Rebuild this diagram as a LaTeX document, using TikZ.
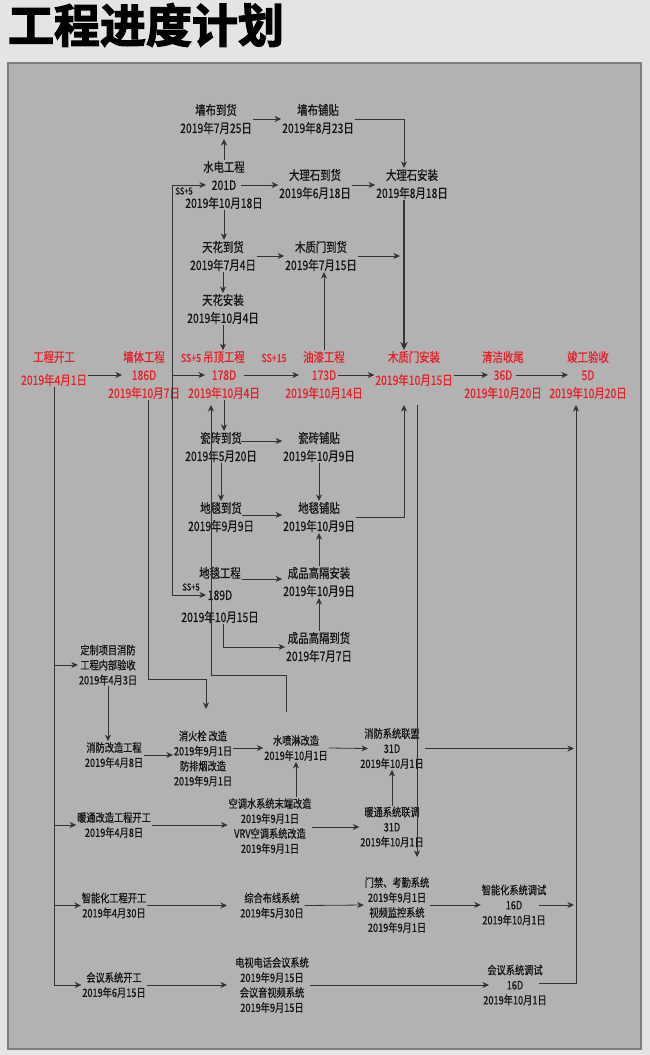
\documentclass[tikz,border=0pt]{standalone}
\usepackage{fontspec}
\setmainfont{Noto Sans CJK SC}
\newfontfamily\bodyfont{Noto Sans CJK SC}[FakeStretch=0.8, FakeBold=0.7]
\newfontfamily\titlefont{Noto Sans CJK SC Bold}[FakeBold=2.8]
\usetikzlibrary{arrows.meta}
\definecolor{pagebg}{HTML}{E4E4E4}
\definecolor{panelfill}{HTML}{B2B2B2}
\definecolor{panelborder}{HTML}{7E7E7E}
\definecolor{ink}{HTML}{141414}
\definecolor{redtxt}{HTML}{E6202A}
\definecolor{wirecol}{HTML}{333333}
\begin{document}
\begin{tikzpicture}[x=1pt,y=-1pt,
  every node/.style={inner sep=0pt, outer sep=0pt},
  task/.style={align=center, text=ink, inner sep=1pt, font=\bodyfont\fontsize{13}{18}\selectfont},
  lowtask/.style={align=center, text=ink, inner sep=1pt, font=\bodyfont\fontsize{11.5}{15}\selectfont},
  maintask/.style={task, text=redtxt},
  laglbl/.style={text=ink, font=\bodyfont\fontsize{9.5}{10}\selectfont},
  redlag/.style={text=redtxt, font=\bodyfont\fontsize{11}{11}\selectfont},
  wire/.style={draw=wirecol, line width=0.8pt},
  arr/.style={wire, -{Stealth[length=6.5pt,width=6pt,inset=2pt]}},
  heavyarr/.style={draw=wirecol, line width=1.5pt, -{Stealth[length=8pt,width=7.5pt,inset=2.5pt]}}
]
\useasboundingbox (0,0) rectangle (650,1055);
\fill[pagebg] (0,0) rectangle (650,1055);
\node[anchor=west, text=black, font=\titlefont\fontsize{46}{46}\selectfont] (title) at (8,25) {工程进度计划};
\filldraw[fill=panelfill, draw=panelborder, line width=2pt] (8,63) rectangle (641,1049);

% ---------- upper tasks ----------
\node[task] (qbdh) at (216,119) {墙布到货\\2019年7月25日};
\node[task] (qbpt) at (318,119) {墙布铺贴\\2019年8月23日};
\node[task] (sd) at (224,185) {水电工程\\201D\\2019年10月18日};
\node[task] (dlsdh) at (315,184) {大理石到货\\2019年6月18日};
\node[task] (dlsaz) at (412,184) {大理石安装\\2019年8月18日};
\node[task] (thdh) at (223,256) {天花到货\\2019年7月4日};
\node[task] (mzmdh) at (321,256) {木质门到货\\2019年7月15日};
\node[task] (thaz) at (223,309) {天花安装\\2019年10月4日};

% ---------- main (red) row ----------
\node[maintask] (kg) at (54,368.5) {工程开工\\[5pt]2019年4月1日};
\node[maintask] (qt) at (144,375) {墙体工程\\186D\\2019年10月7日};
\node[maintask] (dd) at (224,375) {吊顶工程\\178D\\2019年10月4日};
\node[maintask] (yq) at (324,375) {油漆工程\\173D\\2019年10月14日};
\node[maintask] (mzmaz) at (414,368.5) {木质门安装\\[5pt]2019年10月15日};
\node[maintask] (qj) at (503,375) {清洁收尾\\36D\\2019年10月20日};
\node[maintask] (jg) at (588,375) {竣工验收\\5D\\2019年10月20日};

\node[laglbl] (lag1) at (184,191) {SS+5};
\node[redlag] (lag2) at (191,358) {SS+5};
\node[redlag] (lag3) at (274,358) {SS+15};
\node[laglbl] (lag4) at (191,587) {SS+5};

% ---------- middle tasks ----------
\node[task] (czdh) at (221,447) {瓷砖到货\\2019年5月20日};
\node[task] (czpt) at (319,447) {瓷砖铺贴\\2019年10月9日};
\node[task] (dtdh) at (221,517) {地毯到货\\2019年9月9日};
\node[task] (dtpt) at (319,517) {地毯铺贴\\2019年10月9日};
\node[task] (dtgc) at (220,595) {地毯工程\\[4pt]189D\\[4pt]2019年10月15日};
\node[task] (cpaz) at (319,582) {成品高隔安装\\2019年10月9日};
\node[task] (cpdh) at (319,647) {成品高隔到货\\2019年7月7日};

% ---------- lower tasks ----------
\node[lowtask] (dz) at (108,665) {定制项目消防\\工程内部验收\\2019年4月3日};
\node[lowtask] (xfgz) at (114,755) {消防改造工程\\2019年4月8日};
\node[lowtask] (xhs) at (203,758.5) {消火栓 改造\\2019年9月1日\\防排烟改造\\2019年9月1日};
\node[lowtask] (sps) at (296,748) {水喷淋改造\\2019年10月1日};
\node[lowtask] (xflm) at (392,748.5) {消防系统联盟\\31D\\2019年10月1日};
\node[lowtask] (ntgc) at (114,825) {暖通改造工程开工\\2019年4月8日};
\node[lowtask] (kts) at (270,826) {空调水系统末端改造\\2019年9月1日\\VRV空调系统改造\\2019年9月1日};
\node[lowtask] (ntlt) at (392,827) {暖通系统联调\\31D\\2019年10月1日};
\node[lowtask] (znh) at (114,905.5) {智能化工程开工\\2019年4月30日};
\node[lowtask] (zhbx) at (272,905.5) {综合布线系统\\2019年5月30日};
\node[lowtask] (mj) at (397,905) {门禁、考勤系统\\2019年9月1日\\视频监控系统\\2019年9月1日};
\node[lowtask] (zntz) at (514,905) {智能化系统调试\\16D\\2019年10月1日};
\node[lowtask] (hykg) at (114,985) {会议系统开工\\2019年6月15日};
\node[lowtask] (dsdh) at (272,985) {电视电话会议系统\\2019年9月15日\\会议音视频系统\\2019年9月15日};
\node[lowtask] (hytz) at (515,985) {会议系统调试\\16D\\2019年10月1日};

% ---------- routing coordinates ----------
\coordinate (v148) at (148,0);
\coordinate (v172) at (172,0);
\coordinate (v404) at (404,0);
\coordinate (v417) at (417,0);
\coordinate (v576) at (576,0);
\coordinate (mb) at (0,405);
\coordinate (p206) at (206,679);
\coordinate (t709) at (206,709);
\coordinate (p211) at (211,675);
\coordinate (e417) at (417,857);

% ---------- upper connectors ----------
\draw[arr, shorten >=4pt] (sd.north) -- (sd.north |- qbdh.south);
\draw[arr] (qbdh.east) -- (qbpt.west);
\draw[arr] (qbpt.east) -| (v404 |- dlsaz.north);
\draw[arr] ([shift={(17,0)}]sd.center) -- (dlsdh.west |- sd.center);
\draw[arr] (dlsdh.east |- sd.center) -- (dlsaz.west |- sd.center);
\draw[wire] (v172 |- sd.center) -- (v172 |- dtgc.center);
\draw[arr] (v172 |- sd.center) -- ([shift={(-18,0)}]sd.center);
\draw[arr] (sd.south) -- (sd.south |- thdh.north);
\draw[arr] (thdh.east) -- (mzmdh.west);
\draw[arr, shorten >=4pt] (mzmdh.east) -- (v404 |- mzmdh.east);
\draw[arr] (thdh.south) -- (thdh.south |- thaz.north);
\draw[arr] (thaz.south) -- (thaz.south |- dd.north);
\draw[heavyarr] (v404 |- dlsaz.south) -- (v404 |- mzmaz.north);

% ---------- main row connectors ----------
\draw[arr] (kg.east |- qt.center) -- ([shift={(-22,0)}]qt.center);
\draw[arr] (v172 |- dd.center) -- ([shift={(-19,0)}]dd.center);
\draw[arr] ([shift={(20,0)}]dd.center) -- ([shift={(-25,0)}]yq.center);
\draw[arr] (yq.north) -- (yq.north |- mzmdh.south);
\draw[arr] ([shift={(14,0)}]yq.center) -- (mzmaz.west |- yq.center);
\draw[arr] (mzmaz.east |- qj.center) -- ([shift={(-15,0)}]qj.center);
\draw[arr] ([shift={(13,0)}]qj.center) -- ([shift={(-20,0)}]jg.center);

% ---------- middle connectors ----------
\draw[arr] (dd.south) -- (dd.south |- czdh.north);
\draw[arr] ([shift={(20,-6)}]czdh.center) -- ([shift={(0,-6)}]czpt.west);
\draw[arr] (czdh.south) -- (dtdh.north);
\draw[arr] (czpt.south) -- (dtpt.north);
\draw[arr] ([shift={(21,-2)}]dtdh.center) -- ([shift={(0,-2)}]dtpt.west);
\draw[arr] (dtpt.east) -| (v404 |- mb);
\draw[arr] ([shift={(22,-16)}]dtgc.center) -- ([shift={(0,-3)}]cpaz.west);
\draw[arr] (cpaz.north) -- (dtpt.south);
\draw[arr] (cpdh.north) -- (cpaz.south);
\draw[arr] ([shift={(3,0)}]dtgc.south) |- (cpdh.west);
\draw[arr] (v172 |- dtgc.center) -- ([shift={(-14,0)}]dtgc.center);
\draw[arr] (qt.south -| v148) |- (p206) -- (t709);
\draw[arr] ([shift={(-10,-22)}]sps.north) |- (p211) -- (p211 |- mb);
\draw[arr] (v417 |- mb) -- (e417);

% ---------- lower connectors ----------
\draw[wire] (kg.south) -- (kg.south |- hykg.center);
\draw[arr] (kg.south |- dz.center) -- (dz.west);
\draw[arr] (kg.south |- ntgc.center) -- (ntgc.west);
\draw[arr] (kg.south |- znh.center) -- (znh.west);
\draw[arr] (kg.south |- hykg.center) -- (hykg.west);
\draw[arr] (dz.south) -- (dz.south |- xfgz.north);
\draw[arr] (xfgz.east) -- (xhs.west |- xfgz.east);
\draw[arr] (xhs.east |- sps.center) -- (sps.west);
\draw[arr] (sps.east) -- ([shift={(-24,0)}]xflm.center);
\draw[arr, shorten >=2pt] (xflm.east) -- (v576 |- xflm.east);
\draw[arr] (sps.south |- kts.north) -- (sps.south);
\draw[arr] (ntlt.north) -- (xflm.south);
\draw[arr] (ntgc.east) -- (kts.west |- ntgc.east);
\draw[arr] (kts.east |- ntlt.center) -- (ntlt.west);
\draw[arr] (znh.east) -- ([shift={(-45,0)}]zhbx.center);
\draw[arr] (zhbx.east) -- (mj.west);
\draw[arr] (mj.east) -- (zntz.west);
\draw[arr, shorten >=2pt] ([shift={(25,0)}]zntz.center) -- (v576 |- zntz.center);
\draw[arr] (hykg.east) -- ([shift={(-45,0)}]dsdh.center);
\draw[arr] (dsdh.east) -- ([shift={(-26,0)}]hytz.center);
\draw[arr] ([shift={(24,-2)}]hytz.center) -| (v576 |- mb);
\end{tikzpicture}
\end{document}
